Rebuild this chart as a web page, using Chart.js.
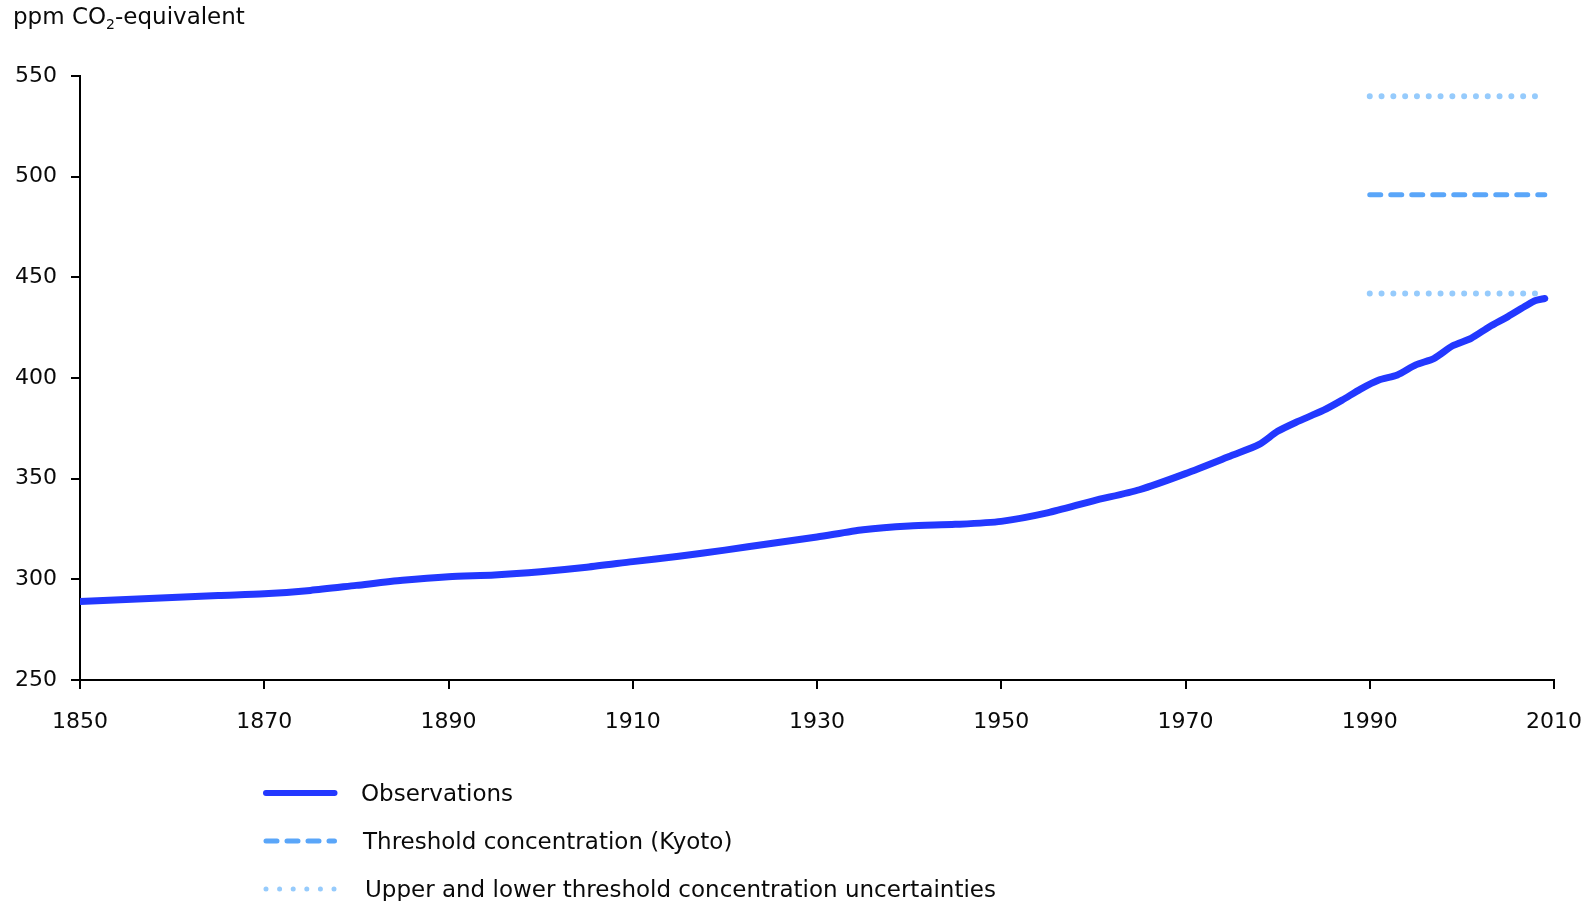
<!DOCTYPE html>
<html lang="en">
<head>
  <meta charset="UTF-8" />
  <title>ppm CO2-equivalent</title>
  <script src="https://cdn.jsdelivr.net/npm/chart.js"></script>
  <style>
    body {
      margin: 0;
      background: #fff;
      font-family: 'DejaVu Sans', Verdana, sans-serif;
      color: #0a0a0a;
    }
    .wrap {
      position: relative;
      width: 1591px;
      height: 901px;
      overflow: hidden;
    }
    #chart { position: absolute; left: 0; top: 0; }
    .unit {
      position: absolute;
      left: 13px;
      top: 3px;
      font-size: 23px;
    }
    .unit sub { font-size: 14px; vertical-align: -5px; }
    .legend {
      position: absolute;
      left: 263px;
      top: 769px;
      font-size: 23px;
    }
    .legend .item {
      display: flex;
      align-items: center;
      height: 48px;
    }
    .legend svg { width: 76px; height: 12px; margin-right: 22px; flex: none; }
  </style>
</head>
<body>
  <div class="wrap">
    <canvas id="chart" width="1591" height="901"></canvas>
    <div class="unit">ppm CO<sub>2</sub>-equivalent</div>
    <div class="legend" id="legend"></div>
  </div>

  <script>
    const obsYears = [1850, 1855, 1860, 1865, 1870, 1875, 1880, 1885, 1890, 1895,
                      1900, 1905, 1910, 1915, 1920, 1925, 1930, 1935, 1940, 1945,
                      1950, 1955, 1960, 1965, 1970, 1975, 1978, 1980, 1982, 1985,
                      1987, 1989, 1991, 1993, 1995, 1997, 1999, 2001, 2003, 2005,
                      2007, 2008, 2009];
    const obsValues = [289, 290, 291, 292, 292.8, 294.5, 297, 299.5, 301.3, 302.2,
                       303.8, 306, 308.8, 311.5, 314.5, 317.8, 321, 324.6, 326.5, 327.3,
                       328.8, 333, 339, 344.5, 352.5, 361.5, 367, 373.5, 378, 384,
                       389, 394.5, 399, 401.5, 406.5, 409.8, 416, 419.7, 425.5, 430.5,
                       436, 438.5, 439.5];

    // threshold (Kyoto) and its uncertainty band
    const thresholdYears = [1990, 2009];
    const bandYears = [1990, 2008];
    const threshold = 491;
    const upperBand = 540;
    const lowerBand = 442;

    const xTicks = [1850, 1870, 1890, 1910, 1930, 1950, 1970, 1990, 2010];
    const yTicks = [250, 300, 350, 400, 450, 500, 550];

    const labels = {
      obs: 'Observations',
      kyoto: 'Threshold concentration (Kyoto)',
      band: 'Upper and lower threshold concentration uncertainties'
    };

    const obsColor = '#2338ff';
    const kyotoColor = '#5aa6f9';
    const bandColor = '#96cbfc';

    const pts = (xs, ys) => xs.map((x, i) => ({ x: x, y: ys[i] }));
    const flat = (xs, v) => xs.map(x => ({ x: x, y: v }));

    const dotted = {
      borderColor: bandColor,
      borderWidth: 6,
      borderDash: [0, 11.8],
      borderCapStyle: 'round',
      pointRadius: 0
    };

    const datasets = [
      Object.assign({ label: labels.band, data: flat(bandYears, upperBand) }, dotted),
      {
        label: labels.kyoto,
        data: flat(thresholdYears, threshold),
        borderColor: kyotoColor,
        borderWidth: 5,
        borderDash: [11, 10],
        borderCapStyle: 'round',
        pointRadius: 0
      },
      Object.assign({ label: labels.band, data: flat(bandYears, lowerBand) }, dotted),
      {
        label: labels.obs,
        data: pts(obsYears, obsValues),
        borderColor: obsColor,
        borderWidth: 7,
        borderCapStyle: 'round',
        borderJoinStyle: 'round',
        tension: 0.25,
        pointRadius: 0
      }
    ];

    const font = { family: "'DejaVu Sans', Verdana, sans-serif", size: 22 };

    const chart = new Chart(document.getElementById('chart'), {
      type: 'line',
      data: { datasets: datasets },
      options: {
        responsive: false,
        animation: false,
        events: [],
        layout: { padding: { left: 0, top: 76, right: 37, bottom: 161 } },
        plugins: { legend: { display: false }, tooltip: { enabled: false } },
        scales: {
          x: {
            type: 'linear',
            min: 1850,
            max: 2010,
            afterBuildTicks: s => { s.ticks = xTicks.map(v => ({ value: v })); },
            afterFit: s => { s.height = 60; s.paddingLeft = 0; s.paddingRight = 0; },
            ticks: { color: '#0a0a0a', font: font, padding: 20, maxRotation: 0, callback: v => String(v) },
            grid: { drawOnChartArea: false, drawTicks: true, tickLength: 9, color: '#000', lineWidth: 2 },
            border: { display: true, color: '#000', width: 2 }
          },
          y: {
            min: 250,
            max: 550,
            afterBuildTicks: s => { s.ticks = yTicks.map(v => ({ value: v })); },
            afterFit: s => { s.width = 80; s.paddingTop = 0; s.paddingBottom = 0; },
            ticks: { color: '#0a0a0a', font: font, padding: 14, callback: v => String(v) },
            grid: { drawOnChartArea: false, drawTicks: true, tickLength: 9, color: '#000', lineWidth: 2 },
            border: { display: true, color: '#000', width: 2 }
          }
        }
      }
    });

    // legend: one entry per distinct label
    const seen = {};
    const legend = document.getElementById('legend');
    [labels.obs, labels.kyoto, labels.band].forEach((name, i) => {
      const ds = chart.data.datasets.find(d => d.label === name);
      if (!ds || seen[name]) return;
      seen[name] = true;
      const dash = name === labels.band ? '0 13.6' : (ds.borderDash ? ds.borderDash.join(' ') : 'none');
      const sw = name === labels.obs ? 6 : 5;
      const item = document.createElement('div');
      item.className = 'item';
      item.innerHTML =
        `<svg viewBox="0 0 76 12"><line x1="3" y1="6" x2="71.5" y2="6" stroke="${ds.borderColor}"` +
        ` stroke-width="${sw}" stroke-linecap="round" stroke-dasharray="${dash}"/></svg>` +
        `<span style="margin-left:${i * 2}px">${name}</span>`;
      legend.appendChild(item);
    });
  </script>
</body>
</html>
